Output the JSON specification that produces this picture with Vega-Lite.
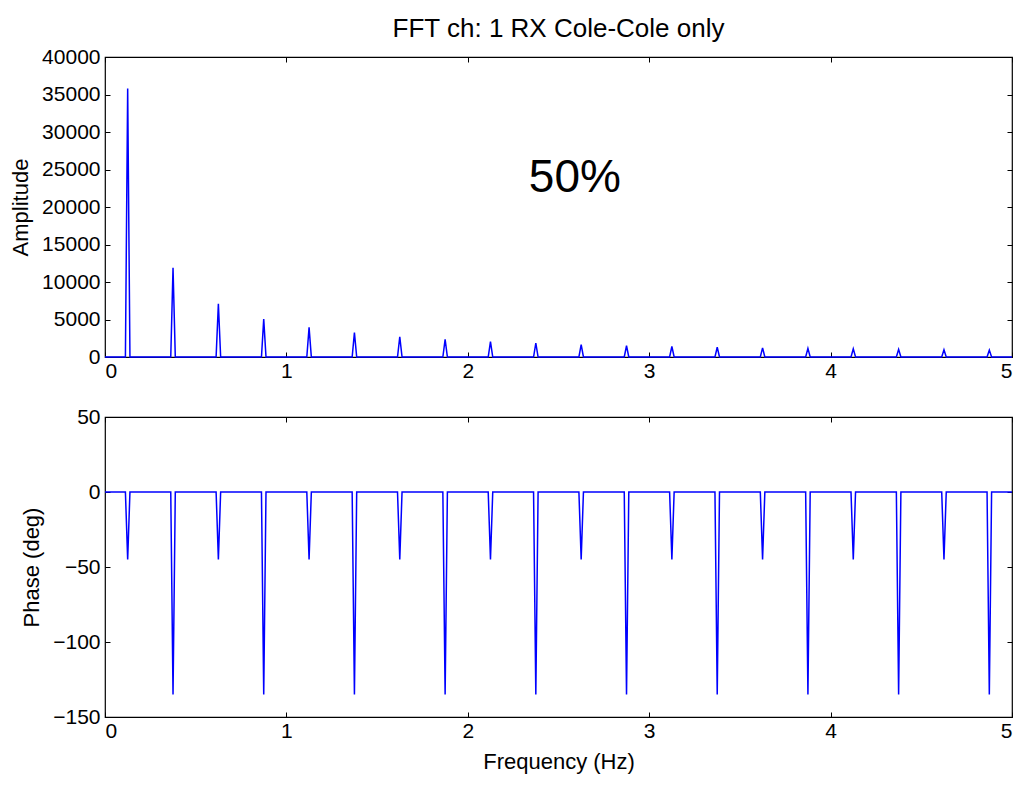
{
  "$schema": "https://vega.github.io/schema/vega-lite/v6.json",
  "background": "white",
  "padding": {"left": 9, "top": 15, "right": 4, "bottom": 5},
  "bounds": "flush",
  "spacing": 60,
  "config": {
    "font": "Liberation Sans",
    "view": {"stroke": "black", "strokeWidth": 1.2},
    "axis": {
      "domain": false,
      "grid": false,
      "tickColor": "black",
      "tickSize": -5,
      "tickWidth": 1,
      "labelFont": "Liberation Sans",
      "labelFontSize": 21,
      "labelColor": "black",
      "titleFont": "Liberation Sans",
      "titleFontSize": 22,
      "titleFontWeight": "normal",
      "titleColor": "black"
    },
    "title": {"font": "Liberation Sans", "fontSize": 26, "fontWeight": "normal", "color": "black"}
  },
  "datasets": {
    "amp": [
      {"f": 0, "amp": 0},
      {"f": 0.1125, "amp": 0}, {"f": 0.125, "amp": 35800}, {"f": 0.1375, "amp": 0},
      {"f": 0.3625, "amp": 0}, {"f": 0.375, "amp": 11900}, {"f": 0.3875, "amp": 0},
      {"f": 0.6125, "amp": 0}, {"f": 0.625, "amp": 7100}, {"f": 0.6375, "amp": 0},
      {"f": 0.8625, "amp": 0}, {"f": 0.875, "amp": 5050}, {"f": 0.8875, "amp": 0},
      {"f": 1.1125, "amp": 0}, {"f": 1.125, "amp": 3950}, {"f": 1.1375, "amp": 0},
      {"f": 1.3625, "amp": 0}, {"f": 1.375, "amp": 3250}, {"f": 1.3875, "amp": 0},
      {"f": 1.6125, "amp": 0}, {"f": 1.625, "amp": 2700}, {"f": 1.6375, "amp": 0},
      {"f": 1.8625, "amp": 0}, {"f": 1.875, "amp": 2350}, {"f": 1.8875, "amp": 0},
      {"f": 2.1125, "amp": 0}, {"f": 2.125, "amp": 2050}, {"f": 2.1375, "amp": 0},
      {"f": 2.3625, "amp": 0}, {"f": 2.375, "amp": 1850}, {"f": 2.3875, "amp": 0},
      {"f": 2.6125, "amp": 0}, {"f": 2.625, "amp": 1650}, {"f": 2.6375, "amp": 0},
      {"f": 2.8625, "amp": 0}, {"f": 2.875, "amp": 1500}, {"f": 2.8875, "amp": 0},
      {"f": 3.1125, "amp": 0}, {"f": 3.125, "amp": 1400}, {"f": 3.1375, "amp": 0},
      {"f": 3.3625, "amp": 0}, {"f": 3.375, "amp": 1300}, {"f": 3.3875, "amp": 0},
      {"f": 3.6125, "amp": 0}, {"f": 3.625, "amp": 1220}, {"f": 3.6375, "amp": 0},
      {"f": 3.8625, "amp": 0}, {"f": 3.875, "amp": 1150}, {"f": 3.8875, "amp": 0},
      {"f": 4.1125, "amp": 0}, {"f": 4.125, "amp": 1080}, {"f": 4.1375, "amp": 0},
      {"f": 4.3625, "amp": 0}, {"f": 4.375, "amp": 1020}, {"f": 4.3875, "amp": 0},
      {"f": 4.6125, "amp": 0}, {"f": 4.625, "amp": 960}, {"f": 4.6375, "amp": 0},
      {"f": 4.8625, "amp": 0}, {"f": 4.875, "amp": 920}, {"f": 4.8875, "amp": 0},
      {"f": 5, "amp": 0}
    ],
    "phase": [
      {"f": 0, "ph": 0},
      {"f": 0.1125, "ph": 0}, {"f": 0.125, "ph": -45}, {"f": 0.1375, "ph": 0},
      {"f": 0.3625, "ph": 0}, {"f": 0.375, "ph": -135}, {"f": 0.3875, "ph": 0},
      {"f": 0.6125, "ph": 0}, {"f": 0.625, "ph": -45}, {"f": 0.6375, "ph": 0},
      {"f": 0.8625, "ph": 0}, {"f": 0.875, "ph": -135}, {"f": 0.8875, "ph": 0},
      {"f": 1.1125, "ph": 0}, {"f": 1.125, "ph": -45}, {"f": 1.1375, "ph": 0},
      {"f": 1.3625, "ph": 0}, {"f": 1.375, "ph": -135}, {"f": 1.3875, "ph": 0},
      {"f": 1.6125, "ph": 0}, {"f": 1.625, "ph": -45}, {"f": 1.6375, "ph": 0},
      {"f": 1.8625, "ph": 0}, {"f": 1.875, "ph": -135}, {"f": 1.8875, "ph": 0},
      {"f": 2.1125, "ph": 0}, {"f": 2.125, "ph": -45}, {"f": 2.1375, "ph": 0},
      {"f": 2.3625, "ph": 0}, {"f": 2.375, "ph": -135}, {"f": 2.3875, "ph": 0},
      {"f": 2.6125, "ph": 0}, {"f": 2.625, "ph": -45}, {"f": 2.6375, "ph": 0},
      {"f": 2.8625, "ph": 0}, {"f": 2.875, "ph": -135}, {"f": 2.8875, "ph": 0},
      {"f": 3.1125, "ph": 0}, {"f": 3.125, "ph": -45}, {"f": 3.1375, "ph": 0},
      {"f": 3.3625, "ph": 0}, {"f": 3.375, "ph": -135}, {"f": 3.3875, "ph": 0},
      {"f": 3.6125, "ph": 0}, {"f": 3.625, "ph": -45}, {"f": 3.6375, "ph": 0},
      {"f": 3.8625, "ph": 0}, {"f": 3.875, "ph": -135}, {"f": 3.8875, "ph": 0},
      {"f": 4.1125, "ph": 0}, {"f": 4.125, "ph": -45}, {"f": 4.1375, "ph": 0},
      {"f": 4.3625, "ph": 0}, {"f": 4.375, "ph": -135}, {"f": 4.3875, "ph": 0},
      {"f": 4.6125, "ph": 0}, {"f": 4.625, "ph": -45}, {"f": 4.6375, "ph": 0},
      {"f": 4.8625, "ph": 0}, {"f": 4.875, "ph": -135}, {"f": 4.8875, "ph": 0},
      {"f": 5, "ph": 0}
    ],
    "note": [
      {"f": 2.59, "amp": 23900, "label": "50%"}
    ]
  },
  "vconcat": [
    {
      "width": 907,
      "height": 300,
      "title": {"text": "FFT ch: 1 RX Cole-Cole only", "anchor": "middle", "offset": 4},
      "resolve": {"axis": {"x": "independent", "y": "independent"}},
      "layer": [
        {
          "data": {"name": "amp"},
          "mark": {"type": "line", "color": "#0000ff", "strokeWidth": 1.5},
          "encoding": {
            "x": {"field": "f", "type": "quantitative", "scale": {"domain": [0, 5], "nice": false},
                  "axis": {"orient": "bottom", "values": [0, 1, 2, 3, 4, 5], "title": null, "labelPadding": 8}},
            "y": {"field": "amp", "type": "quantitative", "scale": {"domain": [0, 40000], "nice": false},
                  "axis": {"orient": "left", "values": [0, 5000, 10000, 15000, 20000, 25000, 30000, 35000, 40000], "format": "d", "title": "Amplitude", "labelPadding": 10, "titlePadding": 9}}
          }
        },
        {
          "data": {"name": "amp"},
          "mark": {"type": "line", "opacity": 0},
          "encoding": {
            "x": {"field": "f", "type": "quantitative",
                  "axis": {"orient": "top", "values": [0, 1, 2, 3, 4, 5], "labels": false, "title": null}},
            "y": {"field": "amp", "type": "quantitative",
                  "axis": {"orient": "right", "values": [0, 5000, 10000, 15000, 20000, 25000, 30000, 35000, 40000], "labels": false, "title": null}}
          }
        },
        {
          "data": {"name": "note"},
          "mark": {"type": "text", "fontSize": 46, "font": "Liberation Sans", "color": "black", "baseline": "middle", "align": "center"},
          "encoding": {
            "x": {"field": "f", "type": "quantitative", "axis": null},
            "y": {"field": "amp", "type": "quantitative", "axis": null},
            "text": {"field": "label"}
          }
        }
      ]
    },
    {
      "width": 907,
      "height": 300,
      "resolve": {"axis": {"x": "independent", "y": "independent"}},
      "layer": [
        {
          "data": {"name": "phase"},
          "mark": {"type": "line", "color": "#0000ff", "strokeWidth": 1.5},
          "encoding": {
            "x": {"field": "f", "type": "quantitative", "scale": {"domain": [0, 5], "nice": false},
                  "axis": {"orient": "bottom", "values": [0, 1, 2, 3, 4, 5], "title": "Frequency (Hz)", "labelPadding": 8, "titlePadding": 10}},
            "y": {"field": "ph", "type": "quantitative", "scale": {"domain": [-150, 50], "nice": false},
                  "axis": {"orient": "left", "values": [-150, -100, -50, 0, 50], "title": "Phase (deg)", "labelPadding": 10, "titlePadding": 9}}
          }
        },
        {
          "data": {"name": "phase"},
          "mark": {"type": "line", "opacity": 0},
          "encoding": {
            "x": {"field": "f", "type": "quantitative",
                  "axis": {"orient": "top", "values": [0, 1, 2, 3, 4, 5], "labels": false, "title": null}},
            "y": {"field": "ph", "type": "quantitative",
                  "axis": {"orient": "right", "values": [-150, -100, -50, 0, 50], "labels": false, "title": null}}
          }
        }
      ]
    }
  ]
}
